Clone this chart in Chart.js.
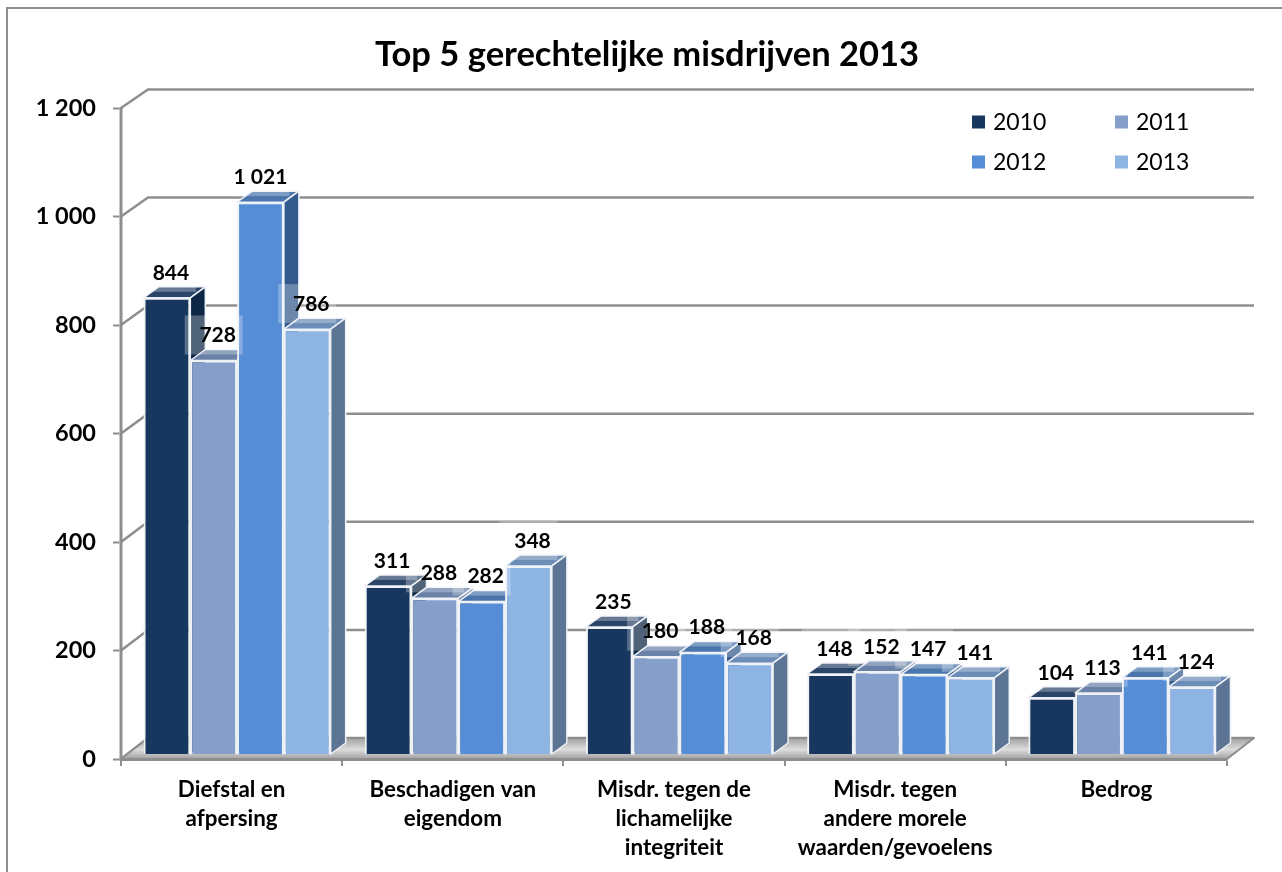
<!DOCTYPE html>
<html><head><meta charset="utf-8">
<style>html,body{margin:0;padding:0;background:#fff}canvas{display:block}</style>
<script src="https://cdn.jsdelivr.net/npm/chart.js@4"></script>
</head><body><canvas id="c" width="1282" height="872"></canvas>
<script>
const chartTitle = 'Top 5 gerechtelijke misdrijven 2013';
const categories = [['Diefstal en','afpersing'],['Beschadigen van','eigendom'],['Misdr. tegen de','lichamelijke','integriteit'],['Misdr. tegen','andere morele','waarden/gevoelens'],['Bedrog']];
const years = ['2010','2011','2012','2013'];
const values2010 = [844,311,235,148,104];
const values2011 = [728,288,180,152,113];
const values2012 = [1021,282,188,147,141];
const values2013 = [786,348,168,141,124];
const seriesValues = [values2010,values2011,values2012,values2013];
const frontColors = ['#17375E','#859FCA','#558DD6','#8DB4E2'];
const sideColors  = ['#0F2746','#5C7197','#335A8C','#5D7595'];
const topColors   = ['#2B4568','#6A82A8','#4A76AD','#6C8DB8'];
const FONT = 'Lato, Carlito, Calibri, sans-serif';
const GRAY = '#8E8E8E';
const depth = {dx:15, dy:-11};       // bar depth
const front = {dx:-5.5, dy:5};       // front axis plane relative to bar plane
const back  = {dx:21.5, dy:-16};     // back wall relative to bar plane
const fmt = v => String(v).replace(/\B(?=(\d{3})+$)/g,' ');

function poly(ctx, pts, fill, stroke, lw){
  ctx.beginPath();
  pts.forEach((p,i)=> i?ctx.lineTo(p[0],p[1]):ctx.moveTo(p[0],p[1]));
  ctx.closePath();
  if(fill){ctx.fillStyle=fill;ctx.fill();}
  if(stroke){ctx.strokeStyle=stroke;ctx.lineWidth=lw;ctx.lineJoin='round';ctx.stroke();}
}
const threeD = {
  id:'threeD',
  afterLayout(chart){
    // centre the title where the reference has it
    const t=chart.titleBlock; const shift=24.75;
    t.left+=shift; t.right+=shift;
  },
  beforeDraw(chart){
    const {ctx, chartArea:a, scales:{y, yAxis}} = chart;
    ctx.save();
    ctx.fillStyle='#fff';ctx.fillRect(0,0,chart.width,chart.height);
    // outer frame
    ctx.strokeStyle=GRAY;ctx.lineWidth=2;
    ctx.beginPath();ctx.moveTo(7,chart.height);ctx.lineTo(7,8);ctx.lineTo(chart.width,8);ctx.stroke();
    const xl=a.left, xr=a.right;
    // back wall grid and left-wall diagonals
    ctx.strokeStyle=GRAY;ctx.lineWidth=2.5;
    yAxis.ticks.forEach(t=>{
      const yb=y.getPixelForValue(t.value)+back.dy, yf=yAxis.getPixelForValue(t.value)+front.dy;
      ctx.beginPath();
      ctx.moveTo(xl+front.dx,yf);
      ctx.lineTo(xl+back.dx,yb);
      ctx.lineTo(xr+back.dx,yb);
      ctx.stroke();
    });
    // floor
    const y0f=yAxis.getPixelForValue(0)+front.dy, y0b=y.getPixelForValue(0)+back.dy;
    const g=ctx.createLinearGradient(0,y0b,0,y0f);
    g.addColorStop(0,'#A0A0A0');g.addColorStop(0.55,'#DCDCDC');g.addColorStop(1,'#A0A0A0');
    poly(ctx,[[xl+front.dx,y0f],[xr+front.dx,y0f],[xr+back.dx,y0b],[xl+back.dx,y0b]],g,GRAY,2);
    ctx.restore();
    ctx.save();
    ctx.translate(front.dx,front.dy);   // axes are drawn on the front plane
  },
  beforeDatasetsDraw(chart){
    const {ctx} = chart;
    ctx.restore();
    ctx.save();
    // bars, painted left to right so each one covers its neighbour's side
    const n=categories.length;
    for(let c=0;c<n;c++){
      seriesValues.forEach((_,d)=>{
        const el=chart.getDatasetMeta(d).data[c];
        const l=el.x-el.width/2, r=el.x+el.width/2, t=el.y, b=el.base;
        const D=depth;
        poly(ctx,[[l,t],[r,t],[r+D.dx,t+D.dy],[l+D.dx,t+D.dy]],topColors[d],'#EEF2F7',1.5);
        poly(ctx,[[r,t],[r+D.dx,t+D.dy],[r+D.dx,b+D.dy],[r,b]],sideColors[d],'#EEF2F7',1.5);
        el.draw(ctx);
      });
    }
    // value labels with translucent plates
    ctx.textAlign='center';ctx.textBaseline='middle';
    seriesValues.forEach((vals,d)=>{
      const meta=chart.getDatasetMeta(d);
      vals.forEach((v,c)=>{
        const el=meta.data[c];
        ctx.fillStyle='rgba(255,255,255,0.28)';
        ctx.fillRect(el.x-29,el.y-45,58,39);
      });
    });
    ctx.fillStyle='#000';
    ctx.font='bold 21px '+FONT;
    seriesValues.forEach((vals,d)=>{
      const meta=chart.getDatasetMeta(d);
      vals.forEach((v,c)=>{
        const el=meta.data[c];
        ctx.fillText(fmt(v),el.x+(v>=1000?0:4),el.y-25);
      });
    });
    // legend
    const cols=[972,1115], rows=[122,162];
    ctx.textAlign='left';
    ctx.font='23px '+FONT;
    years.forEach((yr,i)=>{
      const x=cols[i%2], yy=rows[i>>1];
      ctx.fillStyle=frontColors[i];
      ctx.fillRect(x,yy-6.5,13,13);
      ctx.fillStyle='#000';
      ctx.fillText(yr,x+21,yy+1);
    });
    ctx.restore();
    return false;
  }
};
new Chart(document.getElementById('c'),{
  type:'bar',
  plugins:[threeD],
  data:{labels:categories,datasets:seriesValues.map((v,i)=>({
    label:years[i],data:v,yAxisID:'y',
    backgroundColor:frontColors[i],borderColor:'#EEF2F7',borderWidth:2,
    barPercentage:1,categoryPercentage:0.846
  }))},
  options:{
    responsive:false,animation:false,
    layout:{padding:{left:23,right:49.5,top:0,bottom:0}},
    plugins:{
      legend:{display:false},tooltip:{enabled:false},
      title:{display:true,text:chartTitle,color:'#000',
        font:{family:FONT,size:34.5,weight:'bold',lineHeight:1.2},
        padding:{top:28.8,bottom:32.8}}
    },
    scales:{
      x:{
        afterFit(s){s.height=118;},
        grid:{drawOnChartArea:false,offset:true,tickLength:7,tickColor:GRAY,tickWidth:2},
        border:{color:GRAY,width:3},
        ticks:{color:'#000',maxRotation:0,autoSkip:false,padding:9,
          font:{family:FONT,size:22.4,weight:'bold',lineHeight:1.3}}
      },
      y:{display:false,min:0,max:1204.4},
      yAxis:{
        position:'left',min:0,max:1200,
        afterFit(s){s.width=103.5;},
        grid:{drawOnChartArea:false,tickLength:8,tickColor:GRAY,tickWidth:2},
        border:{color:GRAY,width:3},
        ticks:{stepSize:200,color:'#000',padding:17,
          font:{family:FONT,size:23.5,weight:'bold'},
          callback:v=>fmt(v)}
      }
    }
  }
});
</script></body></html>
